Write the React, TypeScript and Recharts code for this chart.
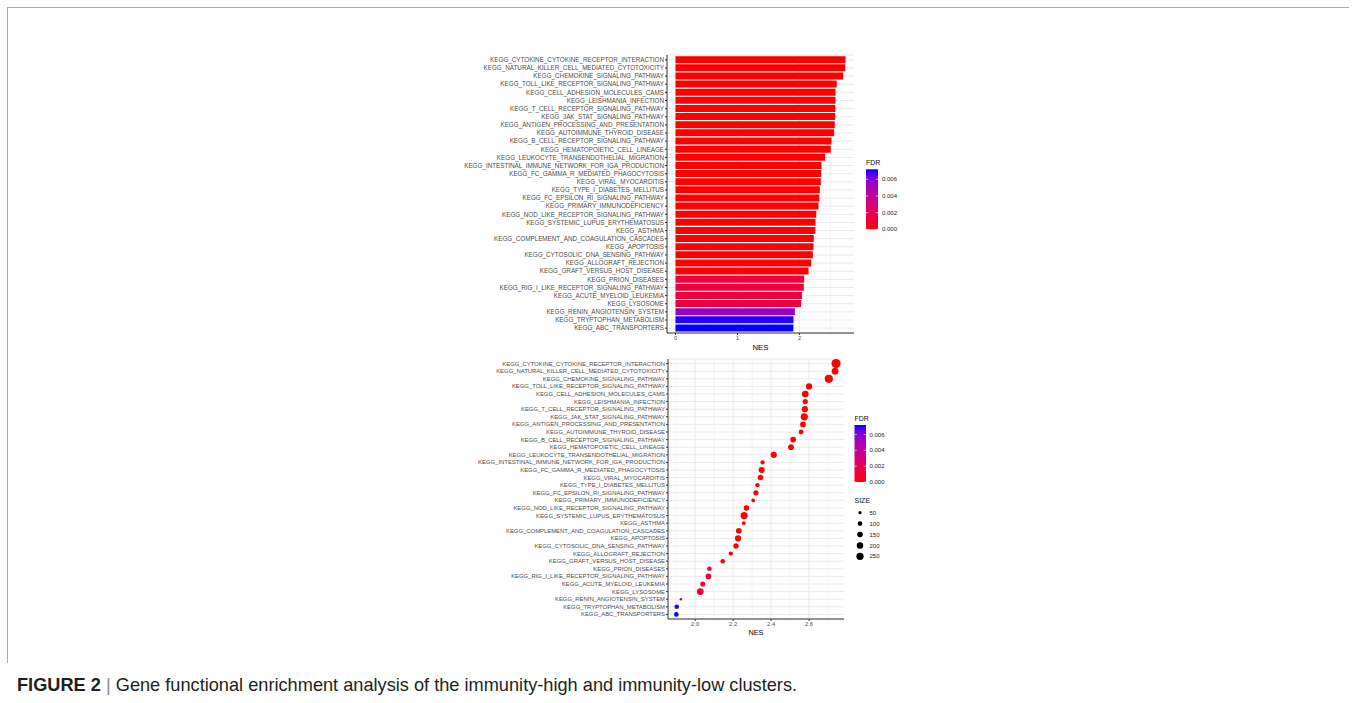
import { BarChart, Bar, XAxis, YAxis, CartesianGrid, Cell, ScatterChart, Scatter, ZAxis } from 'recharts'

const FONT = "'Liberation Sans', Arial, Helvetica, sans-serif"

const pathways = [
  'KEGG_CYTOKINE_CYTOKINE_RECEPTOR_INTERACTION',
  'KEGG_NATURAL_KILLER_CELL_MEDIATED_CYTOTOXICITY',
  'KEGG_CHEMOKINE_SIGNALING_PATHWAY',
  'KEGG_TOLL_LIKE_RECEPTOR_SIGNALING_PATHWAY',
  'KEGG_CELL_ADHESION_MOLECULES_CAMS',
  'KEGG_LEISHMANIA_INFECTION',
  'KEGG_T_CELL_RECEPTOR_SIGNALING_PATHWAY',
  'KEGG_JAK_STAT_SIGNALING_PATHWAY',
  'KEGG_ANTIGEN_PROCESSING_AND_PRESENTATION',
  'KEGG_AUTOIMMUNE_THYROID_DISEASE',
  'KEGG_B_CELL_RECEPTOR_SIGNALING_PATHWAY',
  'KEGG_HEMATOPOIETIC_CELL_LINEAGE',
  'KEGG_LEUKOCYTE_TRANSENDOTHELIAL_MIGRATION',
  'KEGG_INTESTINAL_IMMUNE_NETWORK_FOR_IGA_PRODUCTION',
  'KEGG_FC_GAMMA_R_MEDIATED_PHAGOCYTOSIS',
  'KEGG_VIRAL_MYOCARDITIS',
  'KEGG_TYPE_I_DIABETES_MELLITUS',
  'KEGG_FC_EPSILON_RI_SIGNALING_PATHWAY',
  'KEGG_PRIMARY_IMMUNODEFICIENCY',
  'KEGG_NOD_LIKE_RECEPTOR_SIGNALING_PATHWAY',
  'KEGG_SYSTEMIC_LUPUS_ERYTHEMATOSUS',
  'KEGG_ASTHMA',
  'KEGG_COMPLEMENT_AND_COAGULATION_CASCADES',
  'KEGG_APOPTOSIS',
  'KEGG_CYTOSOLIC_DNA_SENSING_PATHWAY',
  'KEGG_ALLOGRAFT_REJECTION',
  'KEGG_GRAFT_VERSUS_HOST_DISEASE',
  'KEGG_PRION_DISEASES',
  'KEGG_RIG_I_LIKE_RECEPTOR_SIGNALING_PATHWAY',
  'KEGG_ACUTE_MYELOID_LEUKEMIA',
  'KEGG_LYSOSOME',
  'KEGG_RENIN_ANGIOTENSIN_SYSTEM',
  'KEGG_TRYPTOPHAN_METABOLISM',
  'KEGG_ABC_TRANSPORTERS',
]

const nes = [
  2.742, 2.737, 2.704, 2.6, 2.58, 2.58, 2.578, 2.575, 2.568, 2.558,
  2.516, 2.505, 2.414, 2.355, 2.35, 2.344, 2.328, 2.32, 2.306, 2.27,
  2.258, 2.256, 2.23, 2.226, 2.215, 2.188, 2.145, 2.075, 2.07, 2.04,
  2.027, 1.925, 1.903, 1.901,
]

const fdr = [
  0, 0, 0, 0, 0, 0, 0, 0, 0, 0,
  0, 0, 0, 0, 0, 0, 0, 0, 0, 0,
  0, 0, 0, 0, 0, 0, 0, 0.0012, 0.0012, 0.0012,
  0.0013, 0.0054, 0.0071, 0.0072,
]

const setSize = [
  430, 235, 345, 200, 235, 145, 200, 270, 170, 120,
  170, 175, 200, 95, 190, 155, 95, 145, 75, 155,
  270, 75, 170, 200, 145, 95, 110, 110, 170, 135,
  235, 30, 110, 110,
]

const barTicks = [0, 1, 2]
const barMinor = [0.5, 1.5, 2.5]
const dotTicks = [2.0, 2.2, 2.4, 2.6]
const dotMinor = [1.9, 2.1, 2.3, 2.5, 2.7]
const fdrBreaks = [0, 0.002, 0.004, 0.006]
const sizeBreaks = [50, 100, 150, 200, 250]

const BAR_DOMAIN: [number, number] = [-0.137, 2.879]
const DOT_DOMAIN: [number, number] = [1.857, 2.784]

const FDR_MAX = Math.max(...fdr)
const SIZE_MAX = 400
const AREA_PER_UNIT = 65.4 / SIZE_MAX

// red -> blue through CIELAB, like scale_colour_gradient
const toLin = (c: number) => {
  const v = c / 255
  return v <= 0.04045 ? v / 12.92 : Math.pow((v + 0.055) / 1.055, 2.4)
}
const fromLin = (v: number) => {
  const c = v <= 0.0031308 ? 12.92 * v : 1.055 * Math.pow(v, 1 / 2.4) - 0.055
  return Math.round(Math.min(1, Math.max(0, c)) * 255)
}
const WHITE = [0.95047, 1, 1.08883]
function rgbToLab(rgb: number[]) {
  const [r, g, b] = rgb.map(toLin)
  const xyz = [
    (0.4124 * r + 0.3576 * g + 0.1805 * b) / WHITE[0],
    (0.2126 * r + 0.7152 * g + 0.0722 * b) / WHITE[1],
    (0.0193 * r + 0.1192 * g + 0.9505 * b) / WHITE[2],
  ]
  const f = xyz.map((t) => (t > 0.008856 ? Math.cbrt(t) : 7.787 * t + 16 / 116))
  return [116 * f[1] - 16, 500 * (f[0] - f[1]), 200 * (f[1] - f[2])]
}
function labToRgb(lab: number[]) {
  const fy = (lab[0] + 16) / 116
  const fx = fy + lab[1] / 500
  const fz = fy - lab[2] / 200
  const inv = (t: number) => (t > 0.206893 ? t * t * t : (t - 16 / 116) / 7.787)
  const x = inv(fx) * WHITE[0]
  const y = inv(fy) * WHITE[1]
  const z = inv(fz) * WHITE[2]
  const r = 3.2406 * x - 1.5372 * y - 0.4986 * z
  const g = -0.9689 * x + 1.8758 * y + 0.0415 * z
  const b = 0.0557 * x - 0.204 * y + 1.057 * z
  return [fromLin(r), fromLin(g), fromLin(b)]
}
const LOW = rgbToLab([255, 0, 0])
const HIGH = rgbToLab([0, 0, 255])
function fdrColor(v: number) {
  const t = Math.min(1, Math.max(0, v / FDR_MAX))
  const lab = LOW.map((l, i) => l + (HIGH[i] - l) * t)
  const [r, g, b] = labToRgb(lab)
  return `rgb(${r},${g},${b})`
}

const rows = pathways.map((name, i) => ({ name, nes: nes[i], fdr: fdr[i], size: setSize[i] }))

const tickStyle = { fontSize: 6.3, fill: '#4D4D4D', fontFamily: FONT }
const numTick = { fontSize: 5.8, fill: '#4D4D4D', fontFamily: FONT }
const GRID = '#EBEBEB'
const BORDER = '#333333'

// vertical grid positions at given NES values, through the x axis scale
const gridAt = (values: number[], domain: [number, number]) => (props: any) => {
  const s = props?.xAxis?.scale
  if (typeof s === 'function') return values.map((v) => s(v))
  const { left, width } = props.offset
  return values.map((v) => left + ((v - domain[0]) / (domain[1] - domain[0])) * width)
}

function ColorBar({ x, y, w, h, titleY, labelX, id }: { x: number; y: number; w: number; h: number; titleY: number; labelX: number; id: string }) {
  const stops = Array.from({ length: 11 }, (_, i) => i / 10)
  return (
    <g>
      <defs>
        <linearGradient id={id} x1="0" y1="1" x2="0" y2="0">
          {stops.map((s) => (
            <stop key={s} offset={s} stopColor={fdrColor(s * FDR_MAX)} />
          ))}
        </linearGradient>
      </defs>
      <text x={x} y={titleY} fontSize={7} fill="#111" fontFamily={FONT}>FDR</text>
      <rect x={x} y={y} width={w} height={h} fill={`url(#${id})`} />
      {fdrBreaks.map((v) => {
        const ty = y + h - (v / FDR_MAX) * h
        return (
          <g key={v}>
            <line x1={x} x2={x + w * 0.2} y1={ty} y2={ty} stroke="#fff" strokeWidth={0.6} />
            <line x1={x + w * 0.8} x2={x + w} y1={ty} y2={ty} stroke="#fff" strokeWidth={0.6} />
            <text x={labelX} y={ty} dy="0.35em" fontSize={6} fill="#222" fontFamily={FONT}>
              {v.toFixed(3)}
            </text>
          </g>
        )
      })}
    </g>
  )
}

function SizeLegend({ x, titleY, firstY, step, labelX }: { x: number; titleY: number; firstY: number; step: number; labelX: number }) {
  return (
    <g>
      <text x={x - 5.5} y={titleY} fontSize={7} fill="#111" fontFamily={FONT}>SIZE</text>
      {sizeBreaks.map((s, i) => (
        <g key={s}>
          <circle cx={x} cy={firstY + i * step} r={Math.sqrt((s * AREA_PER_UNIT) / Math.PI)} fill="#000" />
          <text x={labelX} y={firstY + i * step} dy="0.35em" fontSize={6} fill="#222" fontFamily={FONT}>
            {s}
          </text>
        </g>
      ))}
    </g>
  )
}

function NesBars() {
  return (
    <BarChart
      width={394}
      height={323}
      data={rows}
      layout="vertical"
      margin={{ top: 15, right: 0, bottom: 0, left: 0 }}
      barCategoryGap="5%"
    >
      <CartesianGrid
        xAxisId="b"
        yAxisId="l"
        stroke={GRID}
        strokeWidth={0.5}
        horizontal={false}
        verticalCoordinatesGenerator={gridAt(barMinor, BAR_DOMAIN)}
      />
      <CartesianGrid
        xAxisId="b"
        yAxisId="l"
        stroke={GRID}
        strokeWidth={1}
        verticalCoordinatesGenerator={gridAt(barTicks, BAR_DOMAIN)}
      />
      <XAxis
        xAxisId="b"
        type="number"
        dataKey="nes"
        domain={BAR_DOMAIN}
        allowDataOverflow
        ticks={barTicks}
        height={30}
        tick={numTick}
        tickSize={2}
        tickMargin={1}
        tickLine={{ stroke: BORDER }}
        axisLine={{ stroke: BORDER }}
        label={{ value: 'NES', position: 'insideBottom', offset: 13, fontSize: 7.8, fill: '#000', fontFamily: FONT }}
      />
      <XAxis xAxisId="t" type="number" orientation="top" domain={[0, 1]} height={0} tick={false} tickLine={false} axisLine={{ stroke: BORDER }} />
      <YAxis
        yAxisId="l"
        type="category"
        dataKey="name"
        width={207}
        interval={0}
        padding={{ top: 0.8, bottom: 0.8 }}
        tick={tickStyle}
        tickSize={2}
        tickMargin={1}
        tickLine={{ stroke: BORDER }}
        axisLine={{ stroke: BORDER }}
      />
      <YAxis yAxisId="r" type="number" orientation="right" domain={[0, 1]} width={0} tick={false} tickLine={false} axisLine={{ stroke: BORDER }} />
      <Bar xAxisId="b" yAxisId="l" dataKey="nes" isAnimationActive={false}>
        {rows.map((r) => (
          <Cell key={r.name} fill={fdrColor(r.fdr)} />
        ))}
      </Bar>
    </BarChart>
  )
}

function NesDots() {
  return (
    <ScatterChart width={384} height={304} margin={{ top: 14, right: 0, bottom: 0, left: 0 }}>
      <CartesianGrid
        xAxisId="b"
        yAxisId="l"
        stroke={GRID}
        strokeWidth={0.5}
        horizontal={false}
        verticalCoordinatesGenerator={gridAt(dotMinor, DOT_DOMAIN)}
      />
      <CartesianGrid
        xAxisId="b"
        yAxisId="l"
        stroke={GRID}
        strokeWidth={1}
        verticalCoordinatesGenerator={gridAt(dotTicks, DOT_DOMAIN)}
      />
      <XAxis
        xAxisId="b"
        type="number"
        dataKey="nes"
        domain={DOT_DOMAIN}
        allowDataOverflow
        ticks={dotTicks}
        tickFormatter={(v: number) => v.toFixed(1)}
        height={30}
        tick={numTick}
        tickSize={2}
        tickMargin={1}
        tickLine={{ stroke: BORDER }}
        axisLine={{ stroke: BORDER }}
        label={{ value: 'NES', position: 'insideBottom', offset: 14, fontSize: 7.3, fill: '#000', fontFamily: FONT }}
      />
      <XAxis xAxisId="t" type="number" orientation="top" domain={[0, 1]} height={0} tick={false} tickLine={false} axisLine={{ stroke: BORDER }} />
      <YAxis
        yAxisId="l"
        type="category"
        dataKey="name"
        reversed
        width={208}
        interval={0}
        padding={{ top: 0.8, bottom: 0.8 }}
        tick={{ ...tickStyle, fontSize: 5.9 }}
        tickSize={2}
        tickMargin={1}
        tickLine={{ stroke: BORDER }}
        axisLine={{ stroke: BORDER }}
      />
      <YAxis yAxisId="r" type="number" orientation="right" domain={[0, 1]} width={0} tick={false} tickLine={false} axisLine={{ stroke: BORDER }} />
      <ZAxis dataKey="size" type="number" domain={[0, SIZE_MAX]} range={[0, SIZE_MAX * AREA_PER_UNIT]} />
      <Scatter xAxisId="b" yAxisId="l" data={rows} isAnimationActive={false}>
        {rows.map((r) => (
          <Cell key={r.name} fill={fdrColor(r.fdr)} />
        ))}
      </Scatter>
    </ScatterChart>
  )
}

export default function App() {
  return (
    <div style={{ position: 'fixed', left: 0, top: 0, width: 1356, height: 703, background: '#fff', overflow: 'hidden', fontFamily: FONT }}>
      <div style={{ position: 'absolute', left: 7, top: 7, width: 1342, height: 1, background: '#A8A8A8' }} />
      <div style={{ position: 'absolute', left: 7, top: 7, width: 1, height: 656, background: '#A8A8A8' }} />
      <div style={{ position: 'absolute', left: 460, top: 40 }}>
        <NesBars />
      </div>
      <div style={{ position: 'absolute', left: 460, top: 345 }}>
        <NesDots />
      </div>
      <svg width={1356} height={703} style={{ position: 'absolute', left: 0, top: 0, pointerEvents: 'none' }}>
        <ColorBar id="fdrTop" x={866} y={169.3} w={12} h={60} titleY={165} labelX={882} />
        <ColorBar id="fdrBottom" x={854.5} y={425} w={11.5} h={57} titleY={420.5} labelX={869.5} />
        <SizeLegend x={860} titleY={503} firstY={512.7} step={10.9} labelX={869.5} />
      </svg>
      <div style={{ position: 'absolute', left: 17, top: 675, fontSize: 18.2, lineHeight: '21px', color: '#231F20', whiteSpace: 'nowrap' }}>
        <b>FIGURE 2</b>
        <span style={{ color: '#8A8A8A' }}> | </span>
        Gene functional enrichment analysis of the immunity-high and immunity-low clusters.
      </div>
    </div>
  )
}
